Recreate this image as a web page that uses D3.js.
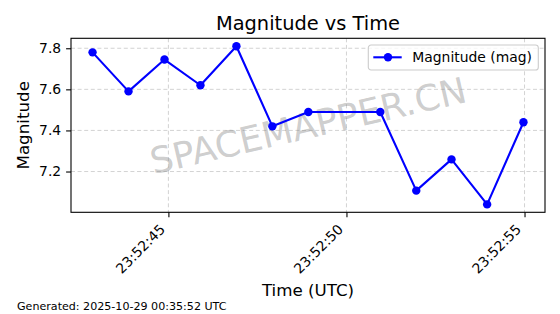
<!DOCTYPE html>
<html>
<head>
<meta charset="utf-8">
<script src="https://cdn.jsdelivr.net/npm/d3@7"></script>
<style>
  body { margin: 0; background: white; }
  svg { display: block; font-family: "DejaVu Sans", sans-serif; }
</style>
</head>
<body>
<svg id="chart" width="560" height="314"></svg>
<script>
// readings (UTC, 2025-10-28)
const times = [
  '23:52:42.870', '23:52:43.880', '23:52:44.890', '23:52:45.900',
  '23:52:46.910', '23:52:47.920', '23:52:48.930', '23:52:50.950',
  '23:52:51.960', '23:52:52.950', '23:52:53.950', '23:52:54.970'
]
const magnitudes = [7.78, 7.59, 7.745, 7.62, 7.81, 7.42, 7.49, 7.49, 7.107, 7.259, 7.04, 7.44]
const xTickLabels = ['23:52:45', '23:52:50', '23:52:55']
const yTickValues = [7.2, 7.4, 7.6, 7.8]

const day = '2025-10-28T'
const parse = s => new Date(day + s + 'Z')
const data = times.map((t, i) => ({t: parse(t), v: magnitudes[i]}))

let svg = d3.select('#chart')
let m = {left: 71, right: 545, top: 38.3, bottom: 212.3}

// matplotlib style 5% margins
function padded(ext) {
  let d = ext[1] - ext[0]
  return [ext[0] - d * 0.05, ext[1] + d * 0.05]
}
let tExt = d3.extent(data, d => +d.t)
let x = d3.scaleUtc().domain(padded(tExt).map(v => new Date(v))).range([m.left, m.right])
let y = d3.scaleLinear().domain(padded(d3.extent(data, d => d.v))).range([m.bottom, m.top])
let xTicks = xTickLabels.map(parse)

svg.append('rect')
  .attr('width', 560).attr('height', 314).attr('fill', 'white')

// grid
let grid = svg.append('g')
  .attr('stroke', '#b0b0b0')
  .attr('stroke-opacity', 0.7)
  .attr('stroke-width', 0.8)
  .attr('stroke-dasharray', '4,2.6')
grid.selectAll('.gx')
  .data(xTicks)
  .join('line')
  .attr('x1', d => x(d)).attr('x2', d => x(d))
  .attr('y1', m.top).attr('y2', m.bottom)
grid.selectAll('.gy')
  .data(yTickValues)
  .join('line')
  .attr('x1', m.left).attr('x2', m.right)
  .attr('y1', d => y(d)).attr('y2', d => y(d))

// watermark
svg.append('text')
  .attr('transform', `translate(${(m.left + m.right) / 2}, ${(m.top + m.bottom) / 2}) rotate(-13)`)
  .attr('text-anchor', 'middle')
  .attr('dy', '0.36em')
  .attr('font-size', 36)
  .attr('fill', '#808080')
  .attr('fill-opacity', 0.4)
  .text('SPACEMAPPER.CN')

// series
let line = d3.line().x(d => x(d.t)).y(d => y(d.v))
svg.append('path')
  .datum(data)
  .attr('d', line)
  .attr('fill', 'none')
  .attr('stroke', '#0000ff')
  .attr('stroke-width', 2.1)
  .attr('stroke-linejoin', 'round')
svg.append('g')
  .selectAll('circle')
  .data(data)
  .join('circle')
  .attr('cx', d => x(d.t))
  .attr('cy', d => y(d.v))
  .attr('r', 4.2)
  .attr('fill', '#0000ff')

// axes
let xAxis = svg.append('g')
  .attr('font-family', null)
  .attr('transform', `translate(0, ${m.bottom})`)
  .call(d3.axisBottom(x).tickValues(xTicks).tickSize(4.9).tickSizeOuter(0).tickFormat(d3.utcFormat('%H:%M:%S')))
xAxis.attr('font-family', null)
xAxis.select('.domain').remove()
xAxis.selectAll('line').attr('stroke', 'black').attr('stroke-width', 1.1)
xAxis.selectAll('text')
  .attr('font-size', 13.9)
  .attr('fill', 'black')
  .attr('text-anchor', 'end')
  .attr('y', 0).attr('dy', 0)
  .attr('transform', 'translate(-3, 18) rotate(-45)')

let yAxis = svg.append('g')
  .attr('transform', `translate(${m.left}, 0)`)
  .call(d3.axisLeft(y).tickValues(yTickValues).tickSize(4.9).tickPadding(4.9).tickFormat(d3.format('.1f')))
yAxis.attr('font-family', null)
yAxis.select('.domain').remove()
yAxis.selectAll('line').attr('stroke', 'black').attr('stroke-width', 1.1)
yAxis.selectAll('text').attr('font-size', 13.9).attr('fill', 'black')

// frame
svg.append('rect')
  .attr('x', m.left).attr('y', m.top)
  .attr('width', m.right - m.left).attr('height', m.bottom - m.top)
  .attr('fill', 'none')
  .attr('stroke', 'black')
  .attr('stroke-width', 1.1)

// legend
let lg = svg.append('g').attr('transform', 'translate(368.3, 45)')
lg.append('rect')
  .attr('width', 170).attr('height', 25)
  .attr('rx', 2.8)
  .attr('fill', 'white').attr('fill-opacity', 0.8)
  .attr('stroke', '#cccccc').attr('stroke-width', 1.1)
lg.append('line')
  .attr('x1', 5).attr('x2', 33.4)
  .attr('y1', 12.3).attr('y2', 12.3)
  .attr('stroke', '#0000ff').attr('stroke-width', 2.1)
lg.append('circle')
  .attr('cx', 19.7).attr('cy', 12.3).attr('r', 4.2)
  .attr('fill', '#0000ff')
lg.append('text')
  .attr('x', 44).attr('y', 17.2)
  .attr('font-size', 13.9)
  .text('Magnitude (mag)')

// titles
svg.append('text')
  .attr('x', (m.left + m.right) / 2).attr('y', 30)
  .attr('text-anchor', 'middle')
  .attr('font-size', 19.4)
  .text('Magnitude vs Time')
svg.append('text')
  .attr('x', (m.left + m.right) / 2).attr('y', 295.7)
  .attr('text-anchor', 'middle')
  .attr('font-size', 16.7)
  .text('Time (UTC)')
svg.append('text')
  .attr('transform', `translate(28.5, ${(m.top + m.bottom) / 2}) rotate(-90)`)
  .attr('text-anchor', 'middle')
  .attr('font-size', 16.7)
  .text('Magnitude')
svg.append('text')
  .attr('x', 17).attr('y', 309.5)
  .attr('font-size', 11.1)
  .text('Generated: 2025-10-29 00:35:52 UTC')
</script>
</body>
</html>
